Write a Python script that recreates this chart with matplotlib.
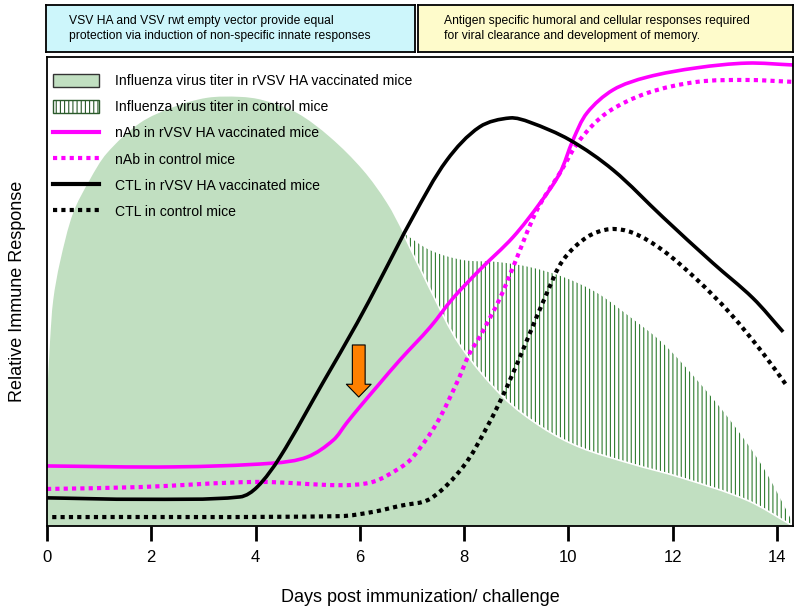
import matplotlib
matplotlib.use("Agg")
import numpy as np
import matplotlib.pyplot as plt
from matplotlib.patches import Patch, PathPatch
from matplotlib.path import Path
from matplotlib.lines import Line2D

plt.rcParams['font.family'] = ['Liberation Sans', 'DejaVu Sans']
plt.rcParams['hatch.linewidth'] = 0.8
plt.rcParams['hatch.color'] = '#2f7d2f'

# ---- data (days, relative response 0-100) ----
titer_vacc_x = [0, 0.06, 0.12, 0.25, 0.50, 0.82, 1.15, 1.78, 2.42, 3.07, 3.70, 4.14, 4.79,
                5.43, 6.06, 6.52, 6.83, 7.35, 7.92, 8.75, 9.50, 10.22, 11.2, 12.14, 13.43, 14.31]
titer_vacc_y = [26.9, 39.7, 48.2, 56.3, 66.7, 73.8, 79.5, 85.9, 89.3, 91.3, 91.5, 90.8, 88.1,
                82.9, 75.9, 68.9, 62.5, 50.5, 38.6, 27.5, 21.0, 16.8, 13.3, 10.4, 5.5, 0.0]

titer_ctrl_x = [6.83, 7.35, 7.98, 8.63, 9.26, 9.90, 10.55, 11.18, 11.81, 12.47, 13.10, 13.73, 14.25, 14.31]
titer_ctrl_y = [62.5, 58.8, 56.7, 56.3, 55.2, 53.1, 49.7, 44.6, 39.0, 31.1, 22.6, 12.6, 1.9, 0.0]

nab_vacc_x = [0, 2.42, 4.33, 4.99, 5.49, 5.75, 6.0, 6.39, 6.77, 7.35, 7.79, 8.30, 8.94, 9.46,
              9.84, 10.09, 10.36, 10.86, 11.51, 12.47, 13.43, 14.31]
nab_vacc_y = [12.8, 12.6, 13.4, 14.7, 18.3, 22.0, 25.4, 30.5, 35.4, 42.4, 48.6, 54.6, 61.6, 68.9,
              75.3, 82.3, 88.1, 93.0, 95.7, 97.7, 98.7, 98.3]

nab_ctrl_x = [0, 1.78, 4.03, 5.62, 6.25, 6.77, 7.02, 7.48, 7.86, 8.11, 8.30, 8.69, 8.94, 9.40,
              9.84, 10.22, 10.74, 11.51, 12.47, 13.43, 14.31]
nab_ctrl_y = [7.9, 8.3, 9.4, 8.7, 9.4, 12.4, 14.7, 22.0, 30.5, 36.9, 40.3, 48.6, 55.2, 67.4,
              75.3, 82.3, 88.1, 92.3, 94.7, 95.1, 94.7]

ctl_vacc_x = [0, 1.78, 3.70, 4.03, 4.47, 5.29, 5.95, 6.39, 7.02, 7.67, 8.30, 8.88, 9.26, 10.03,
              10.86, 11.81, 12.77, 13.54, 14.12]
ctl_vacc_y = [6.0, 5.7, 6.2, 8.3, 14.7, 30.5, 43.3, 52.5, 65.9, 78.0, 85.1, 87.0, 86.1, 82.3,
              75.9, 65.9, 56.1, 48.6, 41.4]

ctl_ctrl_x = [0.1, 5.62, 6.25, 6.77, 7.35, 7.98, 8.44, 8.82, 9.21, 9.59, 9.90, 10.36, 10.80,
              11.24, 11.81, 12.47, 13.10, 13.73, 14.21]
ctl_ctrl_y = [1.9, 2.1, 3.0, 4.3, 5.8, 12.6, 21.1, 29.6, 39.7, 49.7, 56.7, 61.6, 63.3,
              62.5, 58.8, 52.5, 45.4, 36.9, 29.6]

arrow_x = 5.98
arrow_y_top = 38.6
arrow_y_tip = 27.5

x_ticks = [0, 2, 4, 6, 8, 10, 12, 14]

header_left = "VSV HA and VSV rwt empty vector provide equal\nprotection via induction of non-specific innate responses"
header_right = "Antigen specific humoral and cellular responses required\nfor viral clearance and development of memory."

labels = ["Influenza virus titer in rVSV HA vaccinated mice",
          "Influenza virus titer in control mice",
          "nAb in rVSV HA vaccinated mice",
          "nAb in control mice",
          "CTL in rVSV HA vaccinated mice",
          "CTL in control mice"]

GREEN = '#c1dfc1'
MAG = '#ff00ff'
SX, SY = 52.14, 4.69   # display scale (px per data unit) used only for curve smoothness


def smooth_path(xs, ys, close_to_base=False):
    """Bezier path passing through the read points (cardinal spline rendering)."""
    P = np.column_stack([xs, ys]).astype(float)
    n = len(P)
    d = np.hypot(np.diff(P[:, 0]) * SX, np.diff(P[:, 1]) * SY)
    T = np.zeros_like(P)
    T[0] = (P[1] - P[0]) / d[0]
    T[-1] = (P[-1] - P[-2]) / d[-1]
    for i in range(1, n - 1):
        T[i] = (P[i + 1] - P[i - 1]) / (d[i - 1] + d[i])
    verts = [P[0]]
    codes = [Path.MOVETO]
    for i in range(n - 1):
        verts += [P[i] + T[i] * d[i] / 3, P[i + 1] - T[i + 1] * d[i] / 3, P[i + 1]]
        codes += [Path.CURVE4] * 3
    if close_to_base:
        verts += [(P[-1, 0], 0), (P[0, 0], 0), P[0]]
        codes += [Path.LINETO, Path.LINETO, Path.CLOSEPOLY]
    return Path(verts, codes)


fig = plt.figure(figsize=(8, 6.1), dpi=100)
W, H = 800, 610


def fax(l, t, r, b):
    return fig.add_axes([l / W, 1 - b / H, (r - l) / W, (b - t) / H])


ax = fax(47, 57, 793, 526)

# control titer (hatched) drawn below, vaccinated green on top
ax.add_patch(PathPatch(smooth_path(titer_ctrl_x, titer_ctrl_y, True), facecolor='white',
                       edgecolor='#2f7d2f', hatch='||||', linewidth=0, zorder=1))
ax.add_patch(PathPatch(smooth_path(titer_vacc_x, titer_vacc_y, True), facecolor=GREEN,
                       edgecolor='none', linewidth=0, zorder=2))
ax.add_patch(PathPatch(smooth_path(titer_vacc_x[16:], titer_vacc_y[16:]), facecolor='none',
                       edgecolor='white', linewidth=1.2, zorder=2.5))

ax.add_patch(PathPatch(smooth_path(nab_ctrl_x, nab_ctrl_y), fill=False, edgecolor=MAG,
                       lw=3, ls=(0, (1, 1)), zorder=4))
ax.add_patch(PathPatch(smooth_path(ctl_ctrl_x, ctl_ctrl_y), fill=False, edgecolor='black',
                       lw=3, ls=(0, (1, 1)), zorder=4))
ax.add_patch(PathPatch(smooth_path(nab_vacc_x, nab_vacc_y), fill=False, edgecolor=MAG,
                       lw=2.6, zorder=5, capstyle='butt'))
ax.add_patch(PathPatch(smooth_path(ctl_vacc_x, ctl_vacc_y), fill=False, edgecolor='black',
                       lw=2.6, zorder=5, capstyle='butt'))

ax.annotate('', xy=(arrow_x, arrow_y_tip), xytext=(arrow_x, arrow_y_top),
            arrowprops=dict(arrowstyle='simple,head_length=0.8,head_width=1.55,tail_width=0.8',
                            fc='#ff8000', ec='black', lw=0.8, shrinkA=0, shrinkB=0,
                            mutation_scale=11.5), zorder=6)

ax.set_xlim(0, 14.31)
ax.set_ylim(0, 100)
ax.set_xticks(x_ticks)
ax.set_xticklabels([str(t) for t in x_ticks])
ax.set_yticks([])
ax.tick_params(axis='x', direction='out', length=11, width=2, labelsize=12, pad=6.5)
for s in ax.spines.values():
    s.set_linewidth(1.3)
    s.set_zorder(7)
ax.set_xlabel("Days post immunization/ challenge", fontsize=13, labelpad=17)
ax.set_ylabel("Relative Immune Response", fontsize=13, labelpad=15)

handles = [Patch(facecolor=GREEN, edgecolor='#333333', linewidth=1),
           Patch(facecolor='white', edgecolor='#2a5a2a', hatch='||||', linewidth=1),
           Line2D([], [], color=MAG, lw=3),
           Line2D([], [], color=MAG, lw=3, ls=(0, (1, 1))),
           Line2D([], [], color='black', lw=3),
           Line2D([], [], color='black', lw=3, ls=(0, (1, 1)))]
leg = ax.legend(handles, labels, loc='upper left', bbox_to_anchor=(0.0, 1 - 11 / 469),
                frameon=False, fontsize=10.1, handlelength=3.3, handleheight=1.1,
                handletextpad=1.15, labelspacing=0.83, borderaxespad=0, borderpad=0.4)
leg.set_zorder(8)

# header boxes
hb1 = fax(46, 5, 415, 52)
hb1.set_facecolor('#cdf6fb')
hb2 = fax(418, 5, 793, 52)
hb2.set_facecolor('#fefbcb')
for hb, txt, xoff in [(hb1, header_left, 0.062), (hb2, header_right, 0.07)]:
    hb.set_xticks([]); hb.set_yticks([])
    for s in hb.spines.values():
        s.set_linewidth(1.3)
    hb.text(xoff, 0.5, txt, transform=hb.transAxes, ha='left', va='center',
            fontsize=8.7, linespacing=1.3)

fig.savefig('out.png', dpi=100)
